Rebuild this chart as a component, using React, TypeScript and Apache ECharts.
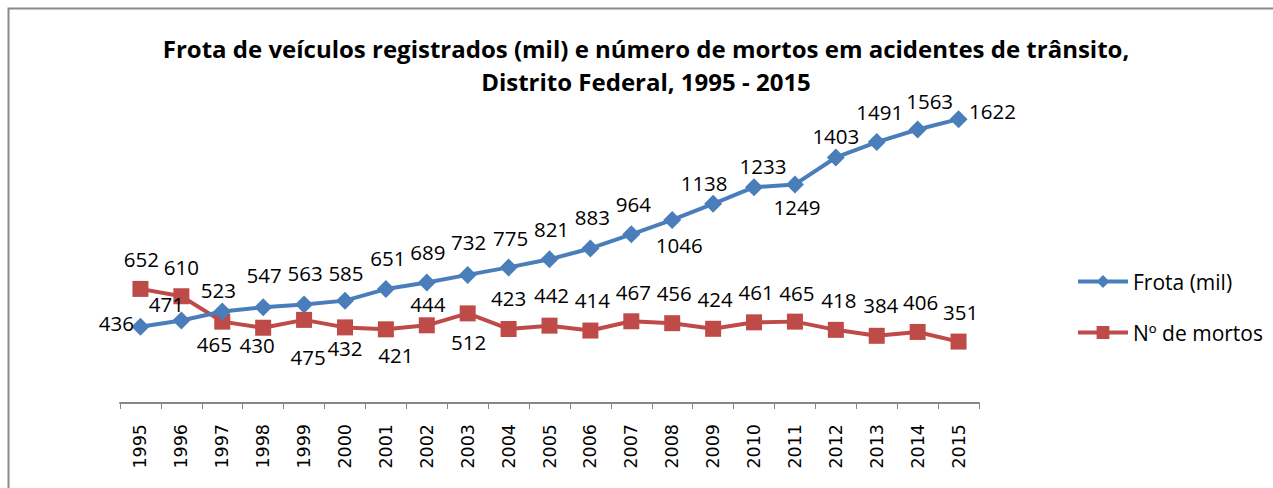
import React, { useEffect, useRef } from "react";
import * as echarts from "echarts";

const years = ["1995","1996","1997","1998","1999","2000","2001","2002","2003","2004","2005","2006","2007","2008","2009","2010","2011","2012","2013","2014","2015"];
const frota = [436,471,523,547,563,585,651,689,732,775,821,883,964,1046,1138,1233,1249,1403,1491,1563,1622];
const mortos = [652,610,465,430,475,432,421,444,512,423,442,414,467,456,424,461,465,418,384,406,351];
const frotaName = "Frota (mil)";
const mortosName = "Nº de mortos";
const titleText = "Frota de veículos registrados (mil) e número de mortos em acidentes de trânsito,\nDistrito Federal, 1995 - 2015";

// label offsets (layout only)
const frotaLabelOffsets: [number, number][] = [
  [-24,-4],[-15,-17],[-4,-21],[1,-32],[1,-31],[1,-28],[2,-31],[1,-30],[1,-33],[2,-29],
  [2,-30],[2,-31],[2,-30],[7,25],[-9,-21],[9,-21],[2,23],[0,-21],[3,-30],[12,-28],[34,-8]
];
const mortosLabelOffsets: [number, number][] = [
  [1,-30],[0,-29],[-8,22],[-6,17],[4,37],[0,21],[10,26],[1,-21],[1,29],[0,-31],
  [2,-31],[2,-31],[2,-29],[2,-30],[2,-30],[2,-30],[2,-29],[3,-30],[4,-31],[3,-30],[2,-30]
];

const LABEL_FONT = "'Open Sans', Lato, sans-serif";

export default function App() {
  const ref = useRef<HTMLDivElement>(null);
  useEffect(() => {
    if (!ref.current) return;
    const chart = echarts.init(ref.current, null, { renderer: "svg" });
    const mkData = (vals: number[], offs: [number, number][]) =>
      vals.map((v, i) => ({
        value: v,
        label: { offset: offs[i] },
      }));
    chart.setOption({
      animation: false,
      backgroundColor: "#ffffff",
      title: {
        text: titleText,
        left: 641,
        textAlign: "center",
        top: 27,
        textStyle: {
          fontFamily: LABEL_FONT,
          fontWeight: "bold",
          fontSize: 24,
          lineHeight: 33,
          color: "#000000",
        },
      },
      legend: {
        orient: "vertical",
        left: 1071,
        top: 266,
        itemWidth: 50,
        itemHeight: 16,
        itemGap: 30,
        lineStyle: { width: 4 },
        textStyle: { fontFamily: LABEL_FONT, fontSize: 21, color: "#000000" },
        data: [frotaName, mortosName],
      },
      grid: { left: 120, right: 294, top: 88, bottom: 85 },
      xAxis: {
        type: "category",
        data: years,
        boundaryGap: true,
        axisLine: { lineStyle: { color: "#868686", width: 2 } },
        axisTick: { show: true, length: 6, lineStyle: { color: "#868686", width: 1 } },
        axisLabel: {
          rotate: 90,
          margin: 21,
          fontFamily: "'DejaVu Sans', sans-serif",
          fontSize: 17.5,
          color: "#000000",
          interval: 0,
        },
      },
      yAxis: {
        type: "value",
        min: 0,
        max: 1800,
        show: false,
        splitLine: { show: false },
      },
      series: [
        {
          name: frotaName,
          type: "line",
          data: mkData(frota, frotaLabelOffsets),
          symbol: "diamond",
          symbolSize: 18,
          color: "#4A7EBB",
          lineStyle: { color: "#4A7EBB", width: 4 },
          itemStyle: { color: "#4A7EBB" },
          label: {
            show: true,
            position: "inside",
            fontFamily: LABEL_FONT,
            fontSize: 20.5,
            color: "#000000",
          },
          z: 3,
        },
        {
          name: mortosName,
          type: "line",
          data: mkData(mortos, mortosLabelOffsets),
          symbol: "rect",
          symbolSize: 16,
          color: "#BE4B48",
          lineStyle: { color: "#BE4B48", width: 4 },
          itemStyle: { color: "#BE4B48" },
          label: {
            show: true,
            position: "inside",
            fontFamily: LABEL_FONT,
            fontSize: 20.5,
            color: "#000000",
          },
          z: 2,
        },
      ],
      graphic: [
        {
          type: "rect",
          left: 6,
          top: 6,
          shape: { x: 0, y: 0, width: 1300, height: 600 },
          style: { fill: "none", stroke: "#8a8a8a", lineWidth: 2 },
          silent: true,
        },
      ],
    });
    return () => chart.dispose();
  }, []);
  return (
    <div
      ref={ref}
      style={{ position: "fixed", left: 0, top: 0, width: 1273, height: 488 }}
    />
  );
}
